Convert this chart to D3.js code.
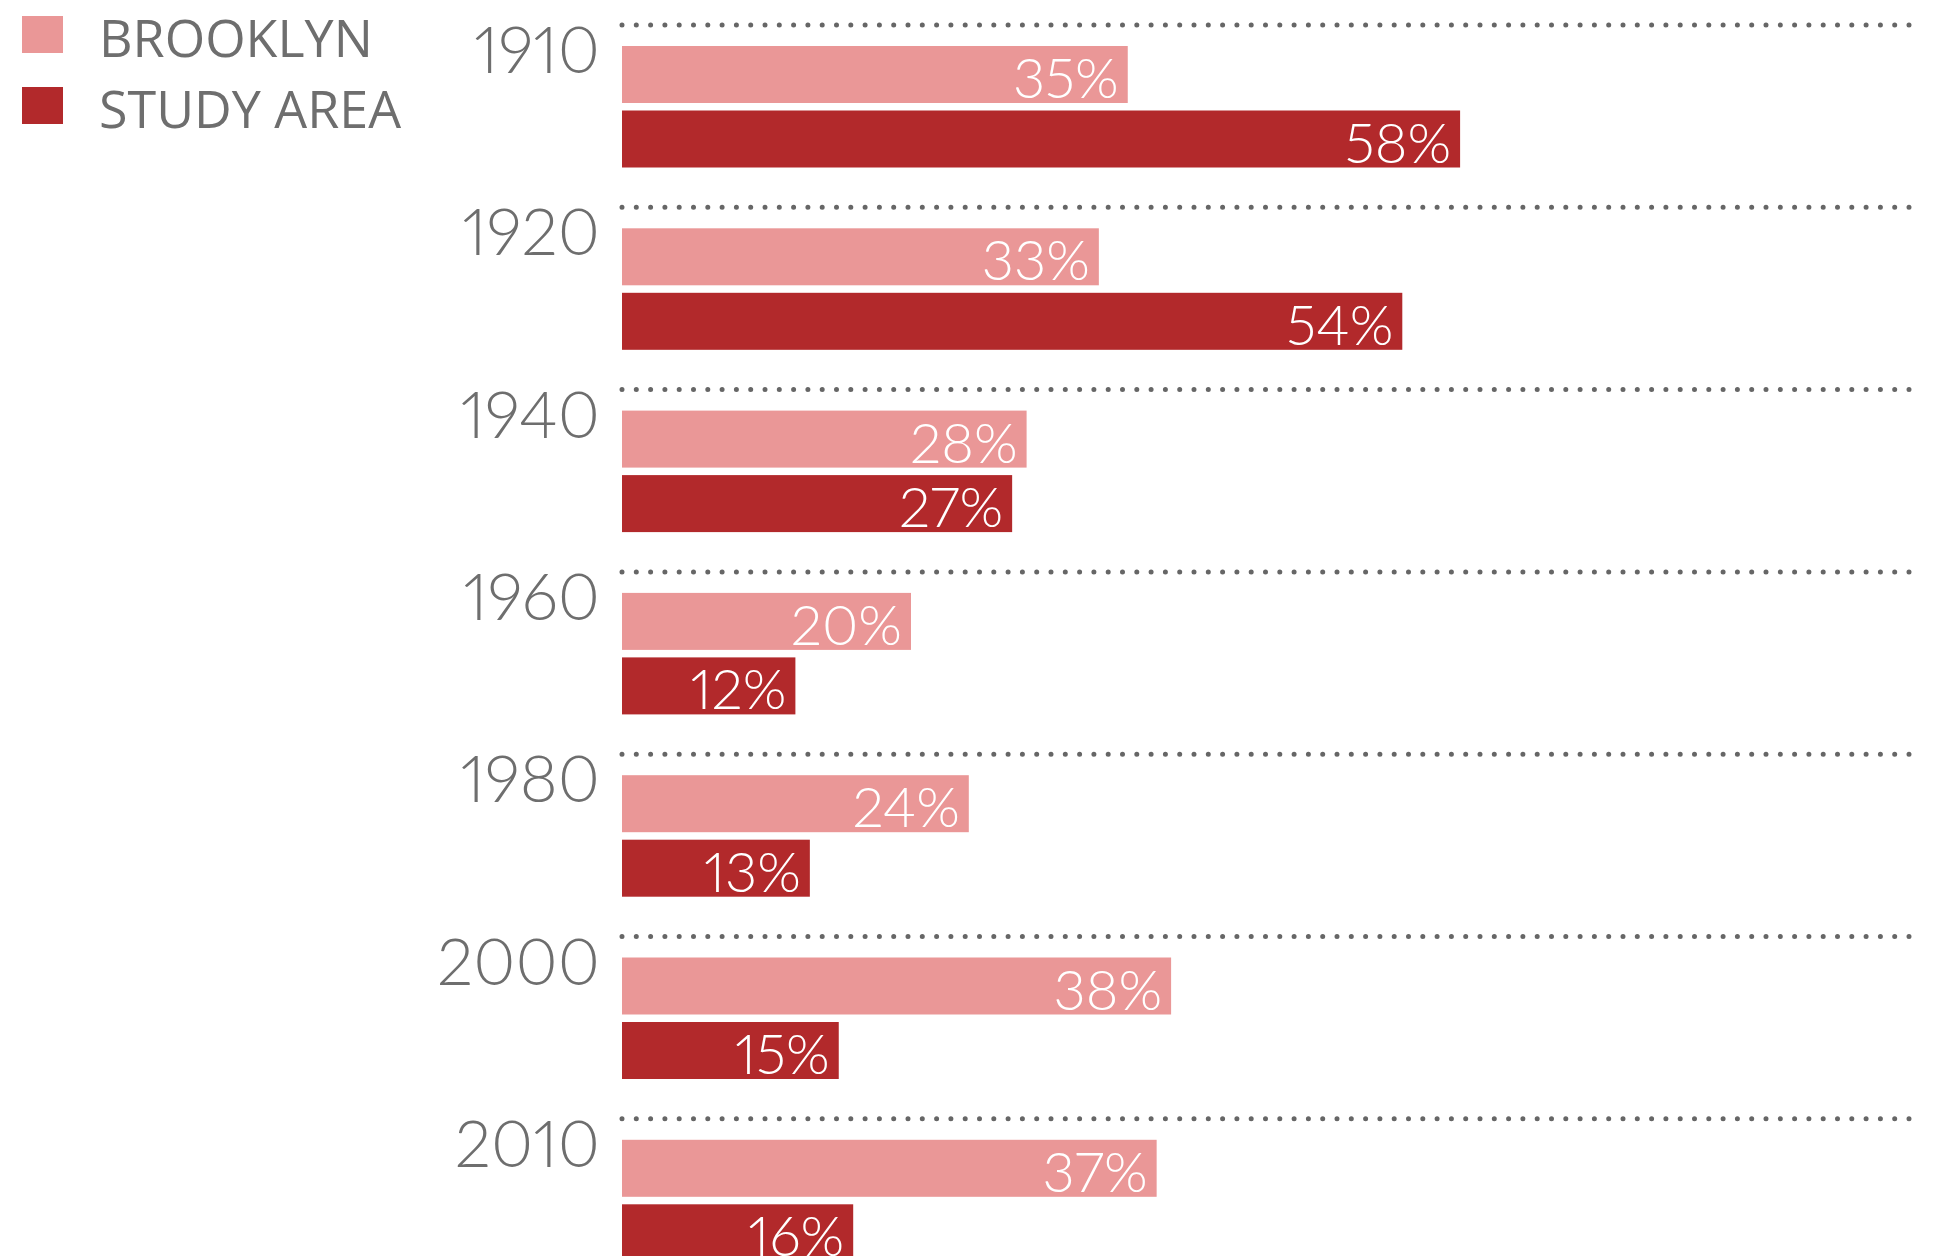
<!DOCTYPE html>
<html>
<head>
<meta charset="utf-8">
<script src="https://cdn.jsdelivr.net/npm/d3@7"></script>
<style>
  html, body { margin: 0; padding: 0; background: #fff; }
  svg { display: block; }
  text { font-variant-numeric: proportional-nums; font-feature-settings: "pnum" 1; }
</style>
</head>
<body>
<svg id="chart" width="1936" height="1256"></svg>
<script>
// Share of population by year, Brooklyn vs. the study area
const years = ["1910", "1920", "1940", "1960", "1980", "2000", "2010"];
const brooklyn = [35, 33, 28, 20, 24, 38, 37];
const studyArea = [58, 54, 27, 12, 13, 15, 16];
const seriesNames = ["BROOKLYN", "STUDY AREA"];
const seriesColors = ["#ea9797", "#b2292b"];

const W = 1936, H = 1256;
const svg = d3.select("#chart");

const fontFamily = "Lato, 'Open Sans', sans-serif";
const textGray = "#6e6e6e";

// Horizontal value scale (percent)
const x = d3.scaleLinear().domain([0, 60]).range([622, 622 + 60 * 14.45]);

// One band per year: dotted rule, then the two bars
const y = d3.scaleBand().domain(years).range([25, 25 + years.length * 182.3]).padding(0);

const barH = 57;
const pinkOffset = 21;
const darkOffset = 85.5;
const ruleStart = 622, ruleEnd = 1916;

const rows = years.map((yr, i) => ({ year: yr, values: [brooklyn[i], studyArea[i]] }));

const g = svg.selectAll("g.row").data(rows).join("g")
  .attr("class", "row")
  .attr("transform", d => `translate(0,${y(d.year)})`);

// Dotted rule
g.append("line")
  .attr("x1", ruleStart).attr("x2", ruleEnd)
  .attr("y1", 0).attr("y2", 0)
  .attr("stroke", "#666")
  .attr("stroke-width", 5)
  .attr("stroke-linecap", "round")
  .attr("stroke-dasharray", "0 14.3");

// Year label
g.append("text")
  .attr("x", 600).attr("y", 48)
  .attr("text-anchor", "end")
  .attr("font-family", fontFamily)
  .attr("font-weight", 300)
  .attr("font-size", 65)
  .attr("fill", textGray)
  .text(d => d.year);

// Bars and their value labels
const offsets = [pinkOffset, darkOffset];
const bars = g.selectAll("g.bar")
  .data(d => d.values.map((v, k) => ({ v, k })))
  .join("g").attr("class", "bar")
  .attr("transform", d => `translate(0,${offsets[d.k]})`);

bars.append("rect")
  .attr("x", x(0))
  .attr("y", 0)
  .attr("width", d => x(d.v) - x(0))
  .attr("height", barH)
  .attr("fill", d => seriesColors[d.k]);

bars.append("text")
  .attr("x", d => x(d.v) - 9)
  .attr("y", barH - 5)
  .attr("text-anchor", "end")
  .attr("font-family", fontFamily)
  .attr("font-weight", 300)
  .attr("font-size", 56)
  .attr("fill", "#ffffff")
  .text(d => d.v + "%");

// Legend
const legend = svg.append("g");
const lg = legend.selectAll("g").data(seriesNames).join("g")
  .attr("transform", (d, i) => `translate(22,${16 + i * 71})`);
lg.append("rect")
  .attr("width", 41).attr("height", 37)
  .attr("fill", (d, i) => seriesColors[i]);
lg.append("text")
  .attr("x", 77).attr("y", 41)
  .attr("font-family", "'Open Sans', Lato, sans-serif")
  .attr("font-weight", 500)
  .attr("font-size", 52)
  .attr("fill", textGray)
  .text(d => d);
</script>
</body>
</html>
